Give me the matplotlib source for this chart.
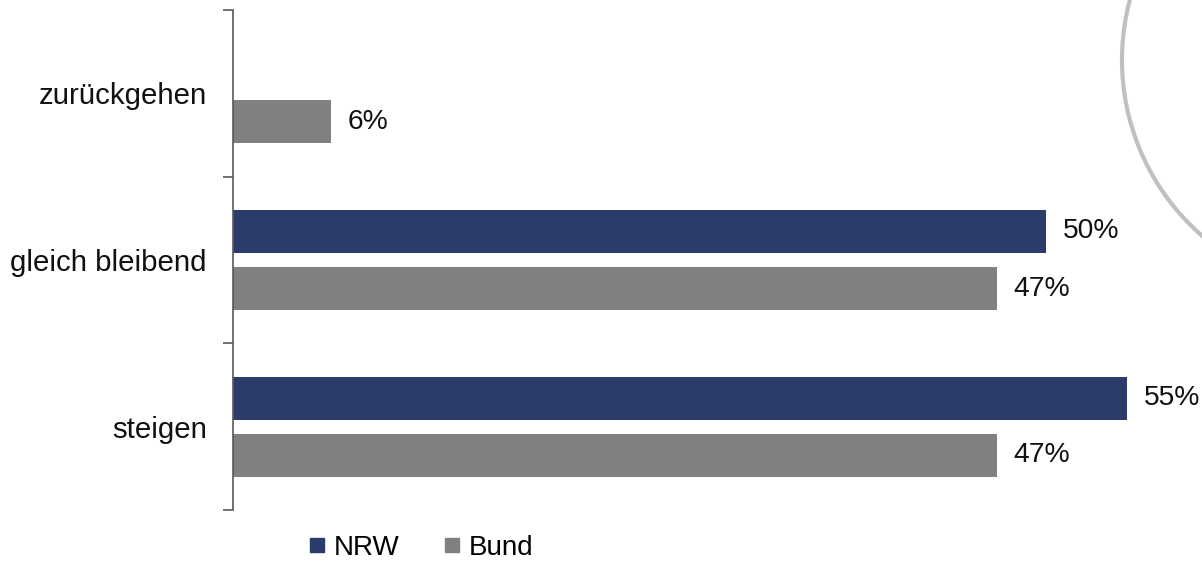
import numpy as np
import matplotlib.pyplot as plt
from matplotlib.lines import Line2D
from matplotlib.patches import Circle

plt.rcParams['font.family'] = ['Liberation Sans', 'DejaVu Sans']

# Data (bottom to top)
categories = ['steigen', 'gleich bleibend', 'zurückgehen']
nrw = [55, 50, None]
bund = [47, 47, 6]

nrw_color = '#2b3c6b'
bund_color = '#808080'

W, H = 1202, 562
fig = plt.figure(figsize=(W / 100, H / 100), dpi=100)

# decorative arc in the upper right corner
bg = fig.add_axes([0, 0, 1, 1])
bg.set_xlim(0, W)
bg.set_ylim(H, 0)
bg.axis('off')
bg.add_patch(Circle((1355, 60), 233, fill=False, edgecolor='#c0c0c0', lw=3))

px = 16.25  # pixels per percent
left = 233
ax = fig.add_axes([left / W, (H - 510) / H, (W - left) / W, 500 / H])
ax.set_xlim(0, (W - left) / px)
ax.set_ylim(-0.5, 2.5)
ax.patch.set_alpha(0)

y = np.arange(len(categories))
off = 0.171
h = 0.258

for i, v in enumerate(nrw):
    if v is not None:
        ax.barh(y[i] + off, v, height=h, color=nrw_color)
        ax.text(v + 17 / px, y[i] + off, f'{v}%', va='center', ha='left', fontsize=20.3, color='#111111')
for i, v in enumerate(bund):
    ax.barh(y[i] - off, v, height=h, color=bund_color)
    ax.text(v + 17 / px, y[i] - off, f'{v}%', va='center', ha='left', fontsize=20.3, color='#111111')

for s in ['top', 'right', 'bottom']:
    ax.spines[s].set_visible(False)
ax.spines['left'].set_color('#595959')
ax.spines['left'].set_linewidth(1.2)
ax.set_xticks([])

ax.set_yticks(np.arange(-0.5, len(categories), 1.0))
ax.set_yticklabels([])
ax.tick_params(axis='y', which='major', length=7, color='#595959', width=1.2)
ax.set_yticks(y, minor=True)
ax.set_yticklabels(categories, minor=True, fontsize=21.2, color='#111111')
ax.tick_params(axis='y', which='minor', length=0, pad=19)

handles = [Line2D([], [], ls='none', marker='s', markersize=10, color=nrw_color),
           Line2D([], [], ls='none', marker='s', markersize=10, color=bund_color)]
fig.legend(handles, ['NRW', 'Bund'], loc='center', bbox_to_anchor=(421 / W, 1 - 548 / H),
           ncol=2, frameon=False, fontsize=20, handlelength=0.6, handletextpad=0.3,
           columnspacing=1.6, borderpad=0.1)

fig.savefig('out.png', dpi=100)
